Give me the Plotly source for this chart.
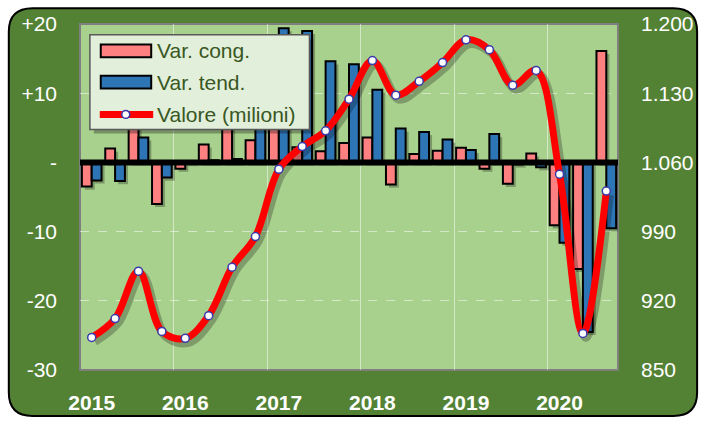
import plotly.graph_objects as go

# ---------------- data ----------------
quarters = ["2015 T1", "2015 T2", "2015 T3", "2015 T4",
            "2016 T1", "2016 T2", "2016 T3", "2016 T4",
            "2017 T1", "2017 T2", "2017 T3", "2017 T4",
            "2018 T1", "2018 T2", "2018 T3", "2018 T4",
            "2019 T1", "2019 T2", "2019 T3", "2019 T4",
            "2020 T1", "2020 T2", "2020 T3"]
year_labels = ["2015", "2016", "2017", "2018", "2019", "2020"]

var_cong = [-3.5, 2.0, 5.2, -6.0, -0.9, 2.6, 5.5, 3.2, 6.9, 2.2, 1.6, 2.8,
            3.6, -3.2, 1.2, 1.7, 2.1, -0.9, -3.1, 1.3, -9.1, -15.4, 16.1]
var_tend = [-2.6, -2.7, 3.6, -2.2, -0.1, 0.3, 0.5, 10.8, 19.4, 19.0, 14.6, 14.2,
            10.5, 4.9, 4.4, 3.3, 1.8, 4.1, -0.3, -0.7, -11.6, -24.5, -9.5]
valore = [883, 902, 950, 889, 882, 905, 954, 985, 1053, 1076, 1092, 1124,
          1163, 1128, 1142, 1161, 1184, 1174, 1138, 1153, 1048, 887, 1031]

left_ticks = [-30, -20, -10, 0, 10, 20]
left_text = ["-30", "-20", "-10", "-", "+10", "+20"]
right_ticks = [850, 920, 990, 1060, 1130, 1200]
right_text = ["850", "920", "990", "1.060", "1.130", "1.200"]

# ---------------- styling ----------------
PINK = "#ff8080"
BLUE = "#2e75b6"
RED = "#ff0000"
FRAME = "#548235"
PLOTBG = "#a9d18e"
GRID = "rgba(255,255,255,0.5)"
TXT_GREEN = "#385723"
FONT = "Liberation Sans, Arial, sans-serif"

W_PX, H_PX = 706, 426
# plot area in page pixels
PX0, PX1, PY0, PY1 = 80, 624, 22, 376
L, R = PX0, W_PX - PX1
T, B = PY0, H_PX - PY1
PW, PH = PX1 - PX0, PY1 - PY0

def px(v):
    return (v - PX0) / PW

def py(v):
    return (PY1 - v) / PH

n = len(quarters)
xs = list(range(n))
x_range = [-0.5, n - 0.5]
year_pos = [quarters.index(y + " T1") for y in year_labels]
boundaries = [p - 0.5 for p in year_pos[1:]]

BW = 0.42          # bar width (category units)
SDX = 0.13         # shadow shift (category units)
SDY = 0.45         # shadow shift (left-axis units)
SDY2 = 4           # shadow shift (right-axis units)

fig = go.Figure()

# bar shadows
fig.add_bar(x=xs, y=var_cong, base=[-SDY] * n, offset=-BW + SDX, width=BW,
            marker=dict(color="rgba(0,0,0,0.28)", line=dict(width=0)),
            hoverinfo="skip")
fig.add_bar(x=xs, y=var_tend, base=[-SDY] * n, offset=SDX, width=BW,
            marker=dict(color="rgba(0,0,0,0.28)", line=dict(width=0)),
            hoverinfo="skip")
# bars
fig.add_bar(x=xs, y=var_cong, offset=-BW, width=BW, name="Var. cong.",
            marker=dict(color=PINK, line=dict(color="black", width=2)))
fig.add_bar(x=xs, y=var_tend, offset=0, width=BW, name="Var. tend.",
            marker=dict(color=BLUE, line=dict(color="black", width=2)))
# zero line over the bars
fig.add_scatter(x=x_range, y=[0, 0], mode="lines",
                line=dict(color="black", width=6), hoverinfo="skip")
# line shadow + line
fig.add_scatter(x=[x + SDX for x in xs], y=[v - SDY2 for v in valore], yaxis="y2",
                mode="lines", line=dict(color="rgba(0,0,0,0.25)", width=9, shape="spline"),
                hoverinfo="skip")
fig.add_scatter(x=xs, y=valore, yaxis="y2", mode="lines+markers", name="Valore (milioni)",
                line=dict(color=RED, width=7, shape="spline"),
                marker=dict(size=8, color="white", line=dict(color="#3a3aaa", width=1.5)))

# ---------------- decorative shapes ----------------
def rounded_path(x0, y0, x1, y1, r):
    pts = [
        ("M", [(x0 + r, y0)]),
        ("L", [(x1 - r, y0)]),
        ("Q", [(x1, y0), (x1, y0 + r)]),
        ("L", [(x1, y1 - r)]),
        ("Q", [(x1, y1), (x1 - r, y1)]),
        ("L", [(x0 + r, y1)]),
        ("Q", [(x0, y1), (x0, y1 - r)]),
        ("L", [(x0, y0 + r)]),
        ("Q", [(x0, y0), (x0 + r, y0)]),
    ]
    s = ""
    for cmd, ps in pts:
        s += cmd + " " + " ".join(f"{px(a):.5f},{py(b):.5f}" for a, b in ps) + " "
    return s + "Z"

shapes = [
    dict(type="path", xref="paper", yref="paper", path=rounded_path(8, 6, 704, 423, 24),
         fillcolor=FRAME, line=dict(color="black", width=2), layer="below"),
    dict(type="rect", xref="paper", yref="paper", x0=0, x1=1, y0=0, y1=1,
         fillcolor=PLOTBG, line=dict(color="#7f7f7f", width=2), layer="below"),
]

# custom legend
lg_x0, lg_x1, lg_y0, lg_y1 = 90, 312, 33, 130
shapes += [
    dict(type="rect", xref="paper", yref="paper", x0=px(lg_x0 + 4), x1=px(lg_x1 + 4),
         y0=py(lg_y1 + 4), y1=py(lg_y0 + 4), fillcolor="rgba(0,0,0,0.3)",
         line=dict(width=0), layer="above"),
    dict(type="rect", xref="paper", yref="paper", x0=px(lg_x0), x1=px(lg_x1),
         y0=py(lg_y1), y1=py(lg_y0), fillcolor="#e2efda",
         line=dict(color="#595959", width=1.5), layer="above"),
    dict(type="rect", xref="paper", yref="paper", x0=px(101), x1=px(152),
         y0=py(56), y1=py(43), fillcolor=PINK, line=dict(color="black", width=2), layer="above"),
    dict(type="rect", xref="paper", yref="paper", x0=px(101), x1=px(152),
         y0=py(88), y1=py(75), fillcolor=BLUE, line=dict(color="black", width=2), layer="above"),
    dict(type="line", xref="paper", yref="paper", x0=px(100), x1=px(154),
         y0=py(114.5), y1=py(114.5), line=dict(color=RED, width=7), layer="above"),
    dict(type="circle", xref="paper", yref="paper", x0=px(122.3), x1=px(130.3),
         y0=py(118.5), y1=py(110.5), fillcolor="white",
         line=dict(color="#3a3aaa", width=1.5), layer="above"),
]
legend_names = ["Var. cong.", "Var. tend.", "Valore (milioni)"]
legend_rows = [49.5, 81.5, 114.5]
annotations = [
    dict(xref="paper", yref="paper", x=px(156), y=py(yy), text=t, showarrow=False,
         xanchor="left", yanchor="middle",
         font=dict(family=FONT, size=21, color=TXT_GREEN))
    for t, yy in zip(legend_names, legend_rows)
]

fig.update_layout(
    width=W_PX, height=H_PX,
    margin=dict(l=L, r=R, t=T, b=B),
    paper_bgcolor="white",
    plot_bgcolor="rgba(0,0,0,0)",
    barmode="overlay",
    showlegend=False,
    hovermode=False,
    font=dict(family=FONT, size=21, color="white"),
    shapes=shapes,
    annotations=annotations,
    xaxis=dict(range=x_range, tickmode="array", tickvals=year_pos,
               ticktext=[f"<b>{y}</b>" for y in year_labels],
               showgrid=False, zeroline=False, showline=False, ticks="",
               ticklabelstandoff=18,
               minor=dict(tickmode="array", tickvals=boundaries, showgrid=True,
                          gridcolor=GRID, gridwidth=1, ticks="")),
    yaxis=dict(range=[-30, 20], tickmode="array", tickvals=left_ticks, ticktext=left_text,
               showgrid=True, gridcolor=GRID, gridwidth=1, griddash="dash",
               zeroline=False, showline=False, ticks="", ticklabelstandoff=22),
    yaxis2=dict(range=[850, 1200], overlaying="y", side="right", tickmode="array",
                tickvals=right_ticks, ticktext=right_text, showgrid=False,
                zeroline=False, showline=False, ticks="", ticklabelstandoff=22),
)

# remove the default 8px page margin so the 706x426 figure fills the window exactly
fig.write_html("out.html",
               config={"displayModeBar": False},
               post_script="document.body.style.margin='0px';document.body.style.overflow='hidden';")
